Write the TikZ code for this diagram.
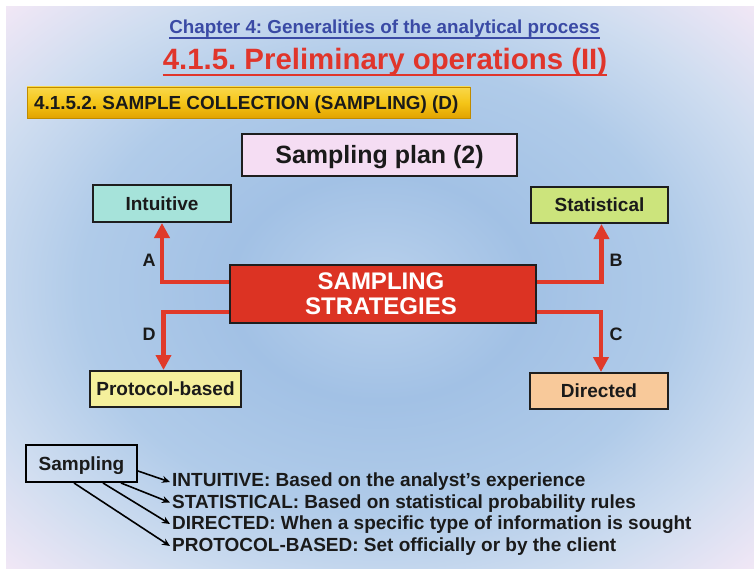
\documentclass[tikz,border=0pt]{standalone}
\usepackage{fontspec}
\setmainfont{Liberation Sans}
\usetikzlibrary{arrows.meta,calc}
\definecolor{bgA}{HTML}{B9D1EC}
\definecolor{bgB}{HTML}{A2C1E5}
\definecolor{bgC}{HTML}{B0CBE9}
\definecolor{bgD}{HTML}{CFDDF0}
\definecolor{bgE}{HTML}{F4E8F6}
\definecolor{chapblue}{HTML}{3A4AA5}
\definecolor{titlered}{HTML}{E0352B}
\definecolor{arrred}{HTML}{E03A2A}
\definecolor{stratred}{HTML}{DC3323}
\definecolor{boxline}{HTML}{1E1E1E}
\definecolor{txt}{HTML}{1A1A1A}
\definecolor{intfill}{HTML}{A6E3DA}
\definecolor{statfill}{HTML}{CCE47C}
\definecolor{protfill}{HTML}{F5F09C}
\definecolor{dirfill}{HTML}{F8C99A}
\definecolor{planfill}{HTML}{F5DDF3}
\definecolor{goldT}{HTML}{F9D84A}
\definecolor{goldM}{HTML}{F5C518}
\definecolor{goldB}{HTML}{E2A300}
\pgfdeclareradialshading{slidebg}{\pgfpoint{0bp}{0bp}}{color(0bp)=(bgA); color(10bp)=(bgB); color(20bp)=(bgC); color(28bp)=(bgD); color(36bp)=(bgE); color(50bp)=(bgE)}
\tikzset{
  fs/.style={font=\bfseries\fontsize{#1}{#1}\selectfont\frenchspacing},
  catbox/.style={draw=boxline, line width=2pt, fs=19, text=txt, inner sep=0pt,
    text height=13.6pt, text depth=0pt, minimum height=36pt},
  listitem/.style={fs=19, text=txt, inner sep=0pt, text height=13.6pt, text depth=0pt, anchor=west},
  stratlbl/.style={fs=24, text=white, inner sep=0pt, text height=17.2pt, text depth=0pt},
  redarrow/.style={draw=arrred, line width=4.5pt, line join=miter,
    -{Triangle[width=15pt,length=15pt]}},
  listarrow/.style={draw=black, line width=1.6pt, -{Stealth[length=8pt,width=7pt]}},
  letter/.style={fs=18, text=txt, inner sep=0pt}
}
\begin{document}
\begin{tikzpicture}[x=1pt,y=-1pt]
\useasboundingbox (0,0) rectangle (754,569);
\fill[white] (0,0) rectangle (754,569);
\shade[shading=slidebg] (6,7) rectangle (754,569);

% titles
\node[fs=18.8, text=chapblue, inner sep=0pt, anchor=base] (chap) at (384.5,34) {Chapter 4: Generalities of the analytical process};
\draw[chapblue, line width=1.5pt] ([yshift=-4pt]chap.base west) -- ([yshift=-4pt]chap.base east);
\node[fs=29.4, text=titlered, inner sep=0pt, anchor=base] (title) at (385,70) {4.1.5. Preliminary operations (II)};
\draw[titlered, line width=2.5pt] ([yshift=-5pt]title.base west) -- ([yshift=-5pt]title.base east);

% yellow bar
\shade[top color=goldT, bottom color=goldB, middle color=goldM, draw=goldB!85!black, line width=0.8pt] (27,87) rectangle (470,118);
\node[fs=18.9, text=txt, inner sep=0pt, anchor=west, text height=13.6pt, text depth=0pt] (bar) at (34,103) {4.1.5.2. SAMPLE COLLECTION (SAMPLING) (D)};

% sampling plan
\node[draw=boxline, line width=2pt, fill=planfill, fs=25, text=txt, inner sep=0pt,
  text height=17.9pt, text depth=0pt, minimum width=275pt, minimum height=42pt] (plan) at (379.5,155) {Sampling plan (2)};

% category boxes
\node[catbox, fill=intfill, minimum width=138pt, minimum height=37pt] (intu) at (162,203.5) {Intuitive};
\node[catbox, fill=statfill, minimum width=137pt] (stat) at (599.5,205) {Statistical};
\node[catbox, fill=protfill, minimum width=151pt] (prot) at (165.5,389) {Protocol-based};
\node[catbox, fill=dirfill, minimum width=138pt] (dir) at (599,391) {Directed};

% central box
\node[draw=boxline, line width=1.6pt, fill=stratred, minimum width=306pt, minimum height=58pt, inner sep=0pt] (strat) at (383,294) {};
\node[stratlbl] (strat1) at (381,281) {SAMPLING};
\node[stratlbl] (strat2) at (381,306) {STRATEGIES};

% red arrows
\draw[redarrow] ([yshift=12pt]strat.west) -| (intu.south);
\draw[redarrow] ([yshift=12pt]strat.east) -| ([xshift=2pt]stat.south);
\draw[redarrow] ([yshift=-18pt]strat.west) -| ([xshift=-2pt]prot.north);
\draw[redarrow] ([yshift=-18pt]strat.east) -| ([xshift=2pt]dir.north);

\node[letter] (la) at (149,260) {A};
\node[letter] (lb) at (616,260) {B};
\node[letter] (lc) at (616,334) {C};
\node[letter] (ld) at (149,334) {D};

% bottom list
\node[draw=black, line width=2pt, fs=19, text=txt, inner sep=0pt, text height=13.6pt, text depth=0pt,
  minimum width=111pt, minimum height=37pt] (samp) at (81.5,463.5) {Sampling};
\node[listitem] (it1) at (172,480) {INTUITIVE: Based on the analyst’s experience};
\node[listitem] (it2) at (172,501.5) {STATISTICAL: Based on statistical probability rules};
\node[listitem] (it3) at (172,523) {DIRECTED: When a specific type of information is sought};
\node[listitem] (it4) at (172,545) {PROTOCOL-BASED: Set officially or by the client};

\draw[listarrow] ([yshift=-7.5pt]samp.east) -- ([xshift=-2pt,yshift=-2pt]it1.west);
\draw[listarrow] ([xshift=-17pt]samp.south east) -- ([xshift=-2pt,yshift=-1pt]it2.west);
\draw[listarrow] ([xshift=-35pt]samp.south east) -- ([xshift=-2pt,yshift=-1pt]it3.west);
\draw[listarrow] ([xshift=-64pt]samp.south east) -- ([xshift=-2pt,yshift=-1pt]it4.west);
\end{tikzpicture}
\end{document}
